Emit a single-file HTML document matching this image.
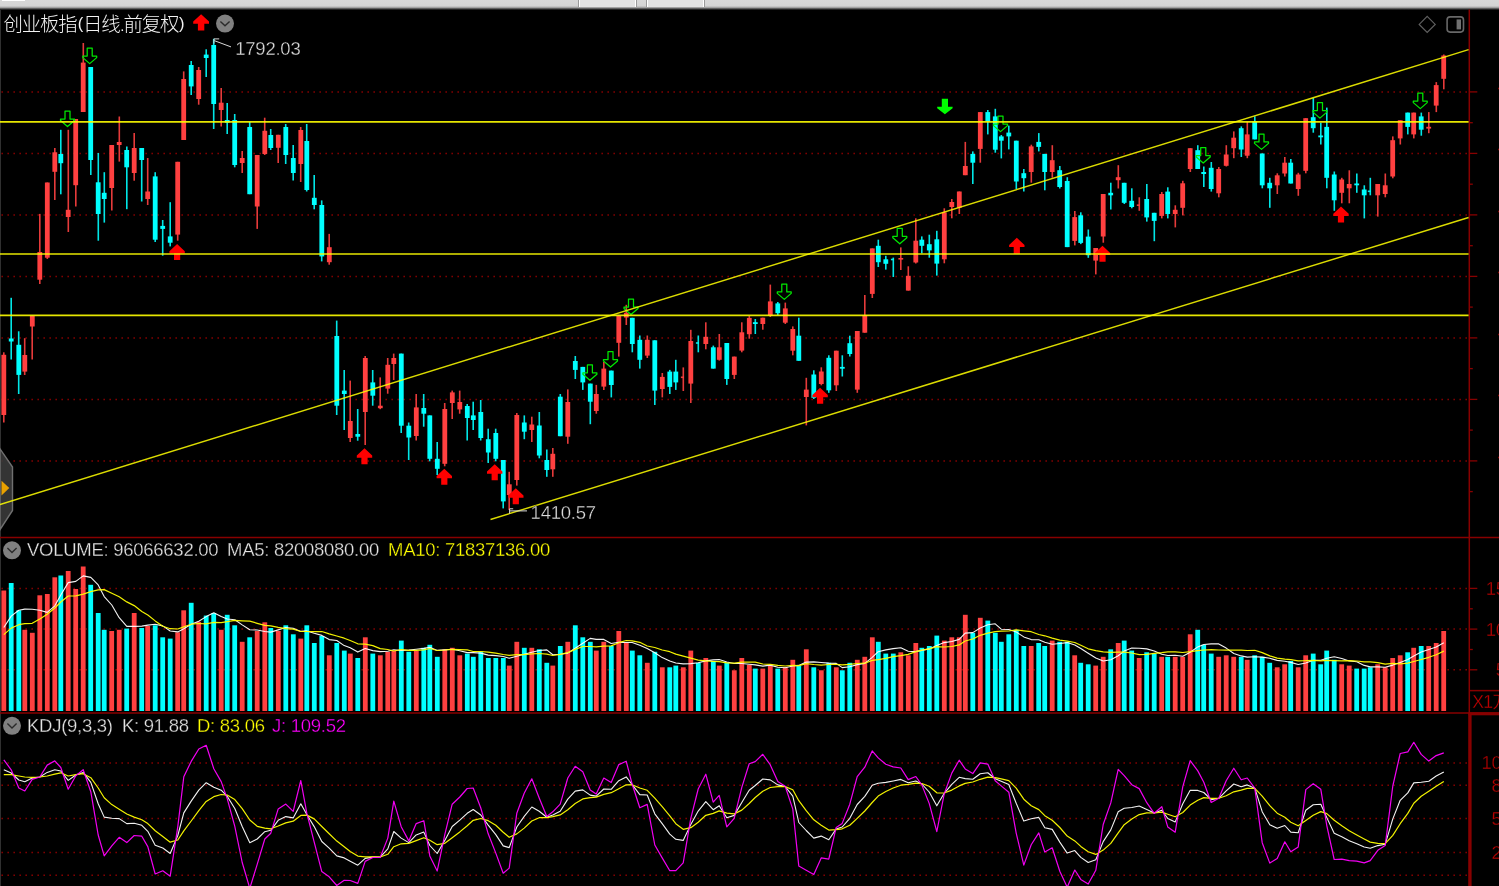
<!DOCTYPE html>
<html lang="zh-CN">
<head>
<meta charset="utf-8">
<title>创业板指 日线 前复权</title>
<style>
html,body{margin:0;padding:0;background:#000;}
body{width:1499px;height:886px;overflow:hidden;position:relative;font-family:"Liberation Sans","Noto Sans CJK SC",sans-serif;}
#topbar{position:absolute;left:0;top:0;width:1499px;height:10.2px;background:linear-gradient(#d8d8d8 0,#d4d4d4 6px,#a2a2a2 7.5px,#404040 9px,#000 10.2px);}
#topbar i{position:absolute;top:0;height:7px;background:#e2e2e2;border-left:1px solid #9a9a9a;border-right:1px solid #9a9a9a;box-shadow:inset 1px 0 0 #fff,inset -1px 0 0 #fff;box-sizing:border-box;}
#topbar b{position:absolute;left:1.5px;top:0;width:23.5px;height:1px;background:#fff;}
svg{position:absolute;left:0;top:0;}
</style>
</head>
<body>
<div id="topbar"><b></b><i style="left:578px;width:59px"></i><i style="left:646px;width:59px"></i></div>
<svg width="1499" height="886" viewBox="0 0 1499 886">
<line x1="0.5" y1="10" x2="0.5" y2="886" stroke="#303030" stroke-width="1"/>
<g stroke="#800000" stroke-width="1.5" stroke-dasharray="1.6 4.4" fill="none">
<line x1="1.4" y1="91.9" x2="1467.3" y2="91.9"/>
<line x1="1.4" y1="153.4" x2="1467.3" y2="153.4"/>
<line x1="1.4" y1="214.9" x2="1467.3" y2="214.9"/>
<line x1="1.4" y1="276.4" x2="1467.3" y2="276.4"/>
<line x1="1.4" y1="337.9" x2="1467.3" y2="337.9"/>
<line x1="1.4" y1="399.4" x2="1467.3" y2="399.4"/>
<line x1="1.4" y1="460.9" x2="1467.3" y2="460.9"/>
<line x1="1.4" y1="588.4" x2="1467.3" y2="588.4"/>
<line x1="1.4" y1="629.1" x2="1467.3" y2="629.1"/>
<line x1="1.4" y1="669.8" x2="1467.3" y2="669.8"/>
<line x1="1.4" y1="763" x2="1467.3" y2="763"/>
<line x1="1.4" y1="785.3" x2="1467.3" y2="785.3"/>
<line x1="1.4" y1="818.5" x2="1467.3" y2="818.5"/>
<line x1="1.4" y1="852.6" x2="1467.3" y2="852.6"/>
<line x1="1.4" y1="875.2" x2="1467.3" y2="875.2"/>
</g>
<g stroke="#880000" stroke-width="1.5" fill="none">
<line x1="1469.3" y1="9.5" x2="1469.3" y2="886"/>
<line x1="0" y1="537.4" x2="1499" y2="537.4"/>
<line x1="0" y1="713" x2="1499" y2="713"/>
<line x1="1469.3" y1="690.6" x2="1499" y2="690.6"/>
</g>
<g stroke="#880000" fill="none"><line x1="1470" y1="713" x2="1470" y2="886" stroke-width="3.2"/><line x1="1468.5" y1="713.8" x2="1499" y2="713.8" stroke-width="3"/></g>
<g stroke="#880000" stroke-width="1.3" fill="none">
<line x1="1469.3" y1="91.9" x2="1477.3" y2="91.9"/>
<line x1="1469.3" y1="122.7" x2="1472.8" y2="122.7"/>
<line x1="1469.3" y1="153.4" x2="1477.3" y2="153.4"/>
<line x1="1469.3" y1="184.2" x2="1472.8" y2="184.2"/>
<line x1="1469.3" y1="214.9" x2="1477.3" y2="214.9"/>
<line x1="1469.3" y1="245.7" x2="1472.8" y2="245.7"/>
<line x1="1469.3" y1="276.4" x2="1477.3" y2="276.4"/>
<line x1="1469.3" y1="307.1" x2="1472.8" y2="307.1"/>
<line x1="1469.3" y1="337.9" x2="1477.3" y2="337.9"/>
<line x1="1469.3" y1="368.6" x2="1472.8" y2="368.6"/>
<line x1="1469.3" y1="399.4" x2="1477.3" y2="399.4"/>
<line x1="1469.3" y1="430.1" x2="1472.8" y2="430.1"/>
<line x1="1469.3" y1="460.9" x2="1477.3" y2="460.9"/>
<line x1="1469.3" y1="491.6" x2="1472.8" y2="491.6"/>
<line x1="1469.3" y1="588.4" x2="1477.3" y2="588.4"/>
<line x1="1469.3" y1="608.8" x2="1472.8" y2="608.8"/>
<line x1="1469.3" y1="629.1" x2="1477.3" y2="629.1"/>
<line x1="1469.3" y1="649.5" x2="1472.8" y2="649.5"/>
<line x1="1469.3" y1="669.8" x2="1477.3" y2="669.8"/>
</g>
<g fill="#ff4040" stroke="none">
<rect x="3" y="352.3" width="1.6" height="70.2" opacity="0.9"/>
<rect x="1.4" y="354.8" width="4.8" height="60.2"/>
<rect x="23.9" y="338.2" width="1.6" height="36.8" opacity="0.9"/>
<rect x="22.4" y="355" width="4.8" height="16.6"/>
<rect x="31.4" y="315.8" width="1.6" height="43.7" opacity="0.9"/>
<rect x="29.9" y="315.8" width="4.8" height="10.7"/>
<rect x="39" y="213.9" width="1.6" height="70.1" opacity="0.9"/>
<rect x="37.4" y="252" width="4.8" height="27.7"/>
<rect x="46.5" y="182.5" width="1.6" height="76.5" opacity="0.9"/>
<rect x="44.9" y="182.5" width="4.8" height="75.2"/>
<rect x="54" y="148" width="1.6" height="52" opacity="0.9"/>
<rect x="52.4" y="152.3" width="4.8" height="19.5"/>
<rect x="67.5" y="129.8" width="1.6" height="102.2" opacity="0.9"/>
<rect x="65.8" y="209.8" width="4.8" height="7.2"/>
<rect x="75" y="119" width="1.6" height="87.5" opacity="0.9"/>
<rect x="73.3" y="119" width="4.8" height="66.2"/>
<rect x="82.5" y="43" width="1.6" height="69" opacity="0.9"/>
<rect x="80.8" y="62.6" width="4.8" height="49.4"/>
<rect x="111" y="145" width="1.6" height="65.5" opacity="0.9"/>
<rect x="109.3" y="145" width="4.8" height="43"/>
<rect x="118.5" y="116.5" width="1.6" height="45.1" opacity="0.9"/>
<rect x="116.8" y="142" width="4.8" height="3"/>
<rect x="133.4" y="133" width="1.6" height="47.7" opacity="0.9"/>
<rect x="131.8" y="148" width="4.8" height="25"/>
<rect x="146.9" y="158" width="1.6" height="47" opacity="0.9"/>
<rect x="145.3" y="191.5" width="4.8" height="7.5"/>
<rect x="176.9" y="161.8" width="1.6" height="78.9" opacity="0.9"/>
<rect x="175.3" y="161.8" width="4.8" height="72.8"/>
<rect x="182.9" y="71.4" width="1.6" height="68.6" opacity="0.9"/>
<rect x="181.3" y="79" width="4.8" height="61"/>
<rect x="197.9" y="67" width="1.6" height="37.7" opacity="0.9"/>
<rect x="196.3" y="70" width="4.8" height="29"/>
<rect x="220.4" y="88" width="1.6" height="38.5" opacity="0.9"/>
<rect x="218.8" y="102.7" width="4.8" height="7.3"/>
<rect x="241.4" y="151" width="1.6" height="22" opacity="0.9"/>
<rect x="239.8" y="158" width="4.8" height="5"/>
<rect x="256.4" y="155" width="1.6" height="73.9" opacity="0.9"/>
<rect x="254.8" y="155" width="4.8" height="51.5"/>
<rect x="263.9" y="117.7" width="1.6" height="37.3" opacity="0.9"/>
<rect x="262.4" y="130.8" width="4.8" height="23.2"/>
<rect x="277.4" y="134.8" width="1.6" height="28.2" opacity="0.9"/>
<rect x="275.9" y="134.8" width="4.8" height="13"/>
<rect x="299.9" y="127" width="1.6" height="55" opacity="0.9"/>
<rect x="298.4" y="130" width="4.8" height="34"/>
<rect x="328.4" y="233.9" width="1.6" height="30.8" opacity="0.9"/>
<rect x="326.9" y="247.2" width="4.8" height="15"/>
<rect x="349.4" y="380.6" width="1.6" height="61.4" opacity="0.9"/>
<rect x="347.9" y="421" width="4.8" height="17"/>
<rect x="364.4" y="356" width="1.6" height="89" opacity="0.9"/>
<rect x="362.9" y="358" width="4.8" height="54"/>
<rect x="379.4" y="377.4" width="1.6" height="31.8" opacity="0.9"/>
<rect x="377.9" y="405.7" width="4.8" height="2.5"/>
<rect x="386.9" y="358" width="1.6" height="35.7" opacity="0.9"/>
<rect x="385.4" y="364.8" width="4.8" height="23.8"/>
<rect x="392.9" y="353.6" width="1.6" height="26.4" opacity="0.9"/>
<rect x="391.4" y="358" width="4.8" height="6"/>
<rect x="415.4" y="394" width="1.6" height="46.5" opacity="0.9"/>
<rect x="413.9" y="407.4" width="4.8" height="28.6"/>
<rect x="443.9" y="403" width="1.6" height="63.3" opacity="0.9"/>
<rect x="442.4" y="409" width="4.8" height="54.8"/>
<rect x="451.4" y="390.6" width="1.6" height="28.4" opacity="0.9"/>
<rect x="449.9" y="392.4" width="4.8" height="10.6"/>
<rect x="458.9" y="390.6" width="1.6" height="23.1" opacity="0.9"/>
<rect x="457.4" y="402" width="4.8" height="7.4"/>
<rect x="508.4" y="471.8" width="1.6" height="38.2" opacity="0.9"/>
<rect x="506.9" y="484.3" width="4.8" height="10.7"/>
<rect x="516" y="413" width="1.6" height="72.6" opacity="0.9"/>
<rect x="514.4" y="415" width="4.8" height="65"/>
<rect x="531" y="416.7" width="1.6" height="25.3" opacity="0.9"/>
<rect x="529.4" y="424.5" width="4.8" height="5.5"/>
<rect x="552" y="448" width="1.6" height="28.8" opacity="0.9"/>
<rect x="550.4" y="453.8" width="4.8" height="15.5"/>
<rect x="567" y="389.4" width="1.6" height="54.4" opacity="0.9"/>
<rect x="565.4" y="402" width="4.8" height="34.7"/>
<rect x="595.5" y="384.9" width="1.6" height="28.8" opacity="0.9"/>
<rect x="593.9" y="394" width="4.8" height="17"/>
<rect x="603" y="362" width="1.6" height="28" opacity="0.9"/>
<rect x="601.4" y="368.6" width="4.8" height="18"/>
<rect x="618" y="315.3" width="1.6" height="41.3" opacity="0.9"/>
<rect x="616.4" y="315.8" width="4.8" height="27"/>
<rect x="625.5" y="304.8" width="1.6" height="20.2" opacity="0.9"/>
<rect x="623.9" y="312.8" width="4.8" height="4.7"/>
<rect x="646.5" y="335.5" width="1.6" height="22.5" opacity="0.9"/>
<rect x="644.9" y="339.8" width="4.8" height="15.8"/>
<rect x="661.5" y="373" width="1.6" height="24.4" opacity="0.9"/>
<rect x="659.9" y="376.9" width="4.8" height="12.1"/>
<rect x="682.5" y="367.4" width="1.6" height="23.6" opacity="0.9"/>
<rect x="680.9" y="376.5" width="3" height="1.6" opacity="0.9"/>
<rect x="690" y="329.8" width="1.6" height="73.2" opacity="0.9"/>
<rect x="688.4" y="341" width="4.8" height="42.6"/>
<rect x="705" y="322.3" width="1.6" height="27" opacity="0.9"/>
<rect x="703.4" y="336.8" width="4.8" height="7.2"/>
<rect x="718.5" y="334" width="1.6" height="26.6" opacity="0.9"/>
<rect x="716.9" y="347.3" width="4.8" height="12.5"/>
<rect x="733.5" y="356.6" width="1.6" height="22.4" opacity="0.9"/>
<rect x="731.9" y="356.6" width="4.8" height="18.3"/>
<rect x="741" y="322.3" width="1.6" height="30" opacity="0.9"/>
<rect x="739.4" y="332.3" width="4.8" height="18.3"/>
<rect x="748.5" y="315.9" width="1.6" height="22.8" opacity="0.9"/>
<rect x="746.9" y="317.9" width="4.8" height="16.3"/>
<rect x="762" y="317.7" width="1.6" height="12" opacity="0.9"/>
<rect x="760.4" y="317.7" width="4.8" height="6.3"/>
<rect x="769.5" y="284.6" width="1.6" height="32.4" opacity="0.9"/>
<rect x="767.9" y="301.4" width="4.8" height="14.3"/>
<rect x="784.5" y="302.6" width="1.6" height="21.4" opacity="0.9"/>
<rect x="782.9" y="308.4" width="4.8" height="14.3"/>
<rect x="792" y="326.4" width="1.6" height="28.9" opacity="0.9"/>
<rect x="790.4" y="329" width="4.8" height="21.7"/>
<rect x="805.5" y="377.8" width="1.6" height="47.6" opacity="0.9"/>
<rect x="803.9" y="389.6" width="4.8" height="7.4"/>
<rect x="820.5" y="367.3" width="1.6" height="18" opacity="0.9"/>
<rect x="818.9" y="371.5" width="4.8" height="12.5"/>
<rect x="835.5" y="350.7" width="1.6" height="40.3" opacity="0.9"/>
<rect x="833.9" y="350.7" width="4.8" height="34.6"/>
<rect x="856.5" y="331" width="1.6" height="61.8" opacity="0.9"/>
<rect x="854.9" y="331" width="4.8" height="58.6"/>
<rect x="864" y="295" width="1.6" height="37.7" opacity="0.9"/>
<rect x="862.4" y="315.2" width="4.8" height="17.5"/>
<rect x="871.5" y="248.4" width="1.6" height="49.6" opacity="0.9"/>
<rect x="869.9" y="248.4" width="4.8" height="45.5"/>
<rect x="900" y="247.4" width="1.6" height="22.6" opacity="0.9"/>
<rect x="898.4" y="258" width="4.8" height="1.6"/>
<rect x="907.5" y="266.3" width="1.6" height="24.3" opacity="0.9"/>
<rect x="905.9" y="275.8" width="4.8" height="14.8"/>
<rect x="915" y="218.3" width="1.6" height="45.2" opacity="0.9"/>
<rect x="913.4" y="240.7" width="4.8" height="21.8"/>
<rect x="943.5" y="208.3" width="1.6" height="55" opacity="0.9"/>
<rect x="941.9" y="212.3" width="4.8" height="47"/>
<rect x="951" y="199" width="1.6" height="19.3" opacity="0.9"/>
<rect x="949.4" y="202" width="4.8" height="5"/>
<rect x="958.5" y="191.5" width="1.6" height="22.5" opacity="0.9"/>
<rect x="956.9" y="191.5" width="4.8" height="16.3"/>
<rect x="964.5" y="141.9" width="1.6" height="33.3" opacity="0.9"/>
<rect x="962.9" y="166" width="4.8" height="9.2"/>
<rect x="979.5" y="112.1" width="1.6" height="50.6" opacity="0.9"/>
<rect x="977.9" y="112.1" width="4.8" height="36.8"/>
<rect x="1030.5" y="144.7" width="1.6" height="38" opacity="0.9"/>
<rect x="1028.8" y="146.4" width="4.8" height="25.6"/>
<rect x="1051.5" y="145.2" width="1.6" height="32.5" opacity="0.9"/>
<rect x="1049.8" y="160.2" width="4.8" height="11.8"/>
<rect x="1074" y="211" width="1.6" height="34.4" opacity="0.9"/>
<rect x="1072.3" y="217.1" width="4.8" height="23.8"/>
<rect x="1095" y="248" width="1.6" height="26.4" opacity="0.9"/>
<rect x="1093.3" y="248" width="4.8" height="12.6"/>
<rect x="1102.5" y="194" width="1.6" height="48.7" opacity="0.9"/>
<rect x="1100.8" y="194" width="4.8" height="42.5"/>
<rect x="1117.5" y="165.2" width="1.6" height="23.3" opacity="0.9"/>
<rect x="1115.8" y="177.2" width="4.8" height="3"/>
<rect x="1138.5" y="197.3" width="1.6" height="13.5" opacity="0.9"/>
<rect x="1136.8" y="204.4" width="3" height="1.6" opacity="0.9"/>
<rect x="1161" y="192" width="1.6" height="26.4" opacity="0.9"/>
<rect x="1159.3" y="194" width="4.8" height="21.9"/>
<rect x="1174.5" y="205.3" width="1.6" height="22.1" opacity="0.9"/>
<rect x="1172.8" y="209.8" width="4.8" height="4.2"/>
<rect x="1182" y="180.8" width="1.6" height="34.6" opacity="0.9"/>
<rect x="1180.3" y="183.3" width="4.8" height="24.5"/>
<rect x="1189.5" y="148.2" width="1.6" height="23.8" opacity="0.9"/>
<rect x="1187.8" y="148.2" width="4.8" height="20.8"/>
<rect x="1218" y="167" width="1.6" height="30.3" opacity="0.9"/>
<rect x="1216.3" y="169" width="4.8" height="24.3"/>
<rect x="1225.5" y="145.2" width="1.6" height="21.3" opacity="0.9"/>
<rect x="1223.8" y="154.5" width="4.8" height="11.3"/>
<rect x="1233" y="131.4" width="1.6" height="26.8" opacity="0.9"/>
<rect x="1231.3" y="137.7" width="4.8" height="10.5"/>
<rect x="1246.5" y="122" width="1.6" height="36.2" opacity="0.9"/>
<rect x="1244.8" y="134.4" width="4.8" height="21.3"/>
<rect x="1276.5" y="173.3" width="1.6" height="20.7" opacity="0.9"/>
<rect x="1274.8" y="175.3" width="4.8" height="10"/>
<rect x="1284" y="157" width="1.6" height="19.5" opacity="0.9"/>
<rect x="1282.3" y="162.7" width="4.8" height="10.8"/>
<rect x="1297.5" y="172.8" width="1.6" height="23" opacity="0.9"/>
<rect x="1295.8" y="174.5" width="4.8" height="14.5"/>
<rect x="1305" y="118.2" width="1.6" height="55.1" opacity="0.9"/>
<rect x="1303.3" y="118.2" width="4.8" height="52.6"/>
<rect x="1341" y="177.8" width="1.6" height="25.5" opacity="0.9"/>
<rect x="1339.3" y="179.5" width="4.8" height="13.3"/>
<rect x="1348.5" y="170.3" width="1.6" height="33" opacity="0.9"/>
<rect x="1346.8" y="184" width="4.8" height="4.3"/>
<rect x="1377" y="184" width="1.6" height="32.6" opacity="0.9"/>
<rect x="1375.3" y="184" width="4.8" height="11.3"/>
<rect x="1384.5" y="173.5" width="1.6" height="23.8" opacity="0.9"/>
<rect x="1382.8" y="185.3" width="4.8" height="8.7"/>
<rect x="1392" y="136.4" width="1.6" height="41.9" opacity="0.9"/>
<rect x="1390.3" y="140.2" width="4.8" height="36.3"/>
<rect x="1399.5" y="120.2" width="1.6" height="24.3" opacity="0.9"/>
<rect x="1397.8" y="120.2" width="4.8" height="18.2"/>
<rect x="1413" y="112.6" width="1.6" height="25.8" opacity="0.9"/>
<rect x="1411.3" y="112.6" width="4.8" height="21.8"/>
<rect x="1428" y="112.1" width="1.6" height="21.1" opacity="0.9"/>
<rect x="1426.3" y="126.8" width="4.8" height="1.8"/>
<rect x="1435.5" y="82.1" width="1.6" height="30" opacity="0.9"/>
<rect x="1433.8" y="85.1" width="4.8" height="20.5"/>
<rect x="1443" y="54.5" width="1.6" height="34.8" opacity="0.9"/>
<rect x="1441.3" y="55.5" width="4.8" height="23.3"/>
</g>
<g fill="#00ffff" stroke="none">
<rect x="10.4" y="297.8" width="1.6" height="61.7" opacity="0.9"/>
<rect x="8.8" y="338.5" width="4.8" height="3"/>
<rect x="17.9" y="331.3" width="1.6" height="62.7" opacity="0.9"/>
<rect x="16.4" y="344.8" width="4.8" height="30.1"/>
<rect x="60" y="129.8" width="1.6" height="64.5" opacity="0.9"/>
<rect x="58.4" y="154" width="4.8" height="9.2"/>
<rect x="90" y="67" width="1.6" height="108" opacity="0.9"/>
<rect x="88.3" y="67" width="4.8" height="93"/>
<rect x="97.5" y="153" width="1.6" height="87.7" opacity="0.9"/>
<rect x="95.8" y="182.3" width="4.8" height="31.7"/>
<rect x="103.5" y="172.2" width="1.6" height="50.4" opacity="0.9"/>
<rect x="101.8" y="192.8" width="4.8" height="6.2"/>
<rect x="126" y="146.5" width="1.6" height="62.7" opacity="0.9"/>
<rect x="124.3" y="150" width="4.8" height="17.3"/>
<rect x="140.9" y="148" width="1.6" height="53.5" opacity="0.9"/>
<rect x="139.3" y="148" width="4.8" height="12"/>
<rect x="154.4" y="172.2" width="1.6" height="69.8" opacity="0.9"/>
<rect x="152.8" y="176.4" width="4.8" height="63.3"/>
<rect x="161.9" y="220" width="1.6" height="35.7" opacity="0.9"/>
<rect x="160.3" y="225.9" width="4.8" height="3"/>
<rect x="169.4" y="202.2" width="1.6" height="44.2" opacity="0.9"/>
<rect x="167.8" y="236.4" width="4.8" height="6.3"/>
<rect x="190.4" y="61" width="1.6" height="34" opacity="0.9"/>
<rect x="188.8" y="65" width="4.8" height="21.4"/>
<rect x="205.4" y="49.3" width="1.6" height="27.7" opacity="0.9"/>
<rect x="203.8" y="54.6" width="4.8" height="3.4"/>
<rect x="212.9" y="38.8" width="1.6" height="90.2" opacity="0.9"/>
<rect x="211.3" y="45" width="4.8" height="59"/>
<rect x="226.4" y="103" width="1.6" height="31" opacity="0.9"/>
<rect x="224.8" y="120" width="4.8" height="2.7"/>
<rect x="233.9" y="114" width="1.6" height="53.3" opacity="0.9"/>
<rect x="232.3" y="120" width="4.8" height="45"/>
<rect x="248.9" y="122" width="1.6" height="72.2" opacity="0.9"/>
<rect x="247.3" y="127" width="4.8" height="67.2"/>
<rect x="269.9" y="129" width="1.6" height="21" opacity="0.9"/>
<rect x="268.4" y="135" width="4.8" height="13"/>
<rect x="284.9" y="124" width="1.6" height="40" opacity="0.9"/>
<rect x="283.4" y="127" width="4.8" height="28"/>
<rect x="292.4" y="145" width="1.6" height="35.5" opacity="0.9"/>
<rect x="290.9" y="158" width="4.8" height="15"/>
<rect x="305.9" y="124" width="1.6" height="67.5" opacity="0.9"/>
<rect x="304.4" y="141" width="4.8" height="49"/>
<rect x="313.4" y="175" width="1.6" height="34.3" opacity="0.9"/>
<rect x="311.9" y="197.8" width="4.8" height="7.2"/>
<rect x="320.9" y="200.4" width="1.6" height="61" opacity="0.9"/>
<rect x="319.4" y="205" width="4.8" height="51.4"/>
<rect x="335.9" y="320.6" width="1.6" height="94.4" opacity="0.9"/>
<rect x="334.4" y="336" width="4.8" height="69.7"/>
<rect x="343.4" y="370" width="1.6" height="60" opacity="0.9"/>
<rect x="341.9" y="390.6" width="4.8" height="3.4"/>
<rect x="356.9" y="409" width="1.6" height="31.7" opacity="0.9"/>
<rect x="355.4" y="434" width="4.8" height="2.7"/>
<rect x="371.9" y="370" width="1.6" height="35.7" opacity="0.9"/>
<rect x="370.4" y="382.4" width="4.8" height="13.3"/>
<rect x="400.4" y="353.6" width="1.6" height="79.4" opacity="0.9"/>
<rect x="398.9" y="353.6" width="4.8" height="72.1"/>
<rect x="407.9" y="422.5" width="1.6" height="37.5" opacity="0.9"/>
<rect x="406.4" y="425.7" width="4.8" height="11.8"/>
<rect x="422.9" y="394" width="1.6" height="32.7" opacity="0.9"/>
<rect x="421.4" y="408" width="4.8" height="5.7"/>
<rect x="428.9" y="415.4" width="1.6" height="45.9" opacity="0.9"/>
<rect x="427.4" y="415.4" width="4.8" height="43.4"/>
<rect x="436.4" y="442" width="1.6" height="33" opacity="0.9"/>
<rect x="434.9" y="458.8" width="4.8" height="10"/>
<rect x="466.4" y="404" width="1.6" height="36.5" opacity="0.9"/>
<rect x="464.9" y="406" width="4.8" height="12"/>
<rect x="472.4" y="401.7" width="1.6" height="28.3" opacity="0.9"/>
<rect x="470.9" y="415.4" width="4.8" height="4.6"/>
<rect x="479.9" y="400" width="1.6" height="40.5" opacity="0.9"/>
<rect x="478.4" y="412" width="4.8" height="26"/>
<rect x="487.4" y="428.7" width="1.6" height="34.3" opacity="0.9"/>
<rect x="485.9" y="439.2" width="4.8" height="13.3"/>
<rect x="494.9" y="428.7" width="1.6" height="32.6" opacity="0.9"/>
<rect x="493.4" y="433" width="4.8" height="25.8"/>
<rect x="502.4" y="460" width="1.6" height="48.4" opacity="0.9"/>
<rect x="500.9" y="460" width="4.8" height="41.4"/>
<rect x="523.5" y="415.4" width="1.6" height="23.8" opacity="0.9"/>
<rect x="521.9" y="422.5" width="4.8" height="9.2"/>
<rect x="538.5" y="412" width="1.6" height="46.3" opacity="0.9"/>
<rect x="536.9" y="425.5" width="4.8" height="30"/>
<rect x="546" y="449.5" width="1.6" height="27.3" opacity="0.9"/>
<rect x="544.4" y="460" width="4.8" height="10"/>
<rect x="559.5" y="394" width="1.6" height="42.2" opacity="0.9"/>
<rect x="557.9" y="396.7" width="4.8" height="39.5"/>
<rect x="574.5" y="356" width="1.6" height="23" opacity="0.9"/>
<rect x="572.9" y="361" width="4.8" height="8.9"/>
<rect x="582" y="366.9" width="1.6" height="23" opacity="0.9"/>
<rect x="580.4" y="366.9" width="4.8" height="15.5"/>
<rect x="589.5" y="383.6" width="1.6" height="40.6" opacity="0.9"/>
<rect x="587.9" y="383.6" width="4.8" height="18.1"/>
<rect x="610.5" y="370.6" width="1.6" height="26.8" opacity="0.9"/>
<rect x="608.9" y="370.6" width="4.8" height="14.4"/>
<rect x="631.5" y="317.8" width="1.6" height="34.5" opacity="0.9"/>
<rect x="629.9" y="317.8" width="4.8" height="26.2"/>
<rect x="639" y="335.5" width="1.6" height="33.1" opacity="0.9"/>
<rect x="637.4" y="339.8" width="4.8" height="20"/>
<rect x="654" y="340.3" width="1.6" height="64.7" opacity="0.9"/>
<rect x="652.4" y="340.3" width="4.8" height="50.3"/>
<rect x="669" y="369.9" width="1.6" height="24.1" opacity="0.9"/>
<rect x="667.4" y="371.6" width="4.8" height="15.3"/>
<rect x="675" y="359.8" width="1.6" height="30.1" opacity="0.9"/>
<rect x="673.4" y="371.6" width="4.8" height="10.8"/>
<rect x="697.5" y="335.5" width="1.6" height="16.8" opacity="0.9"/>
<rect x="695.9" y="342.2" width="3" height="1.6" opacity="0.9"/>
<rect x="712.5" y="345.6" width="1.6" height="23" opacity="0.9"/>
<rect x="710.9" y="347.3" width="4.8" height="21.3"/>
<rect x="726" y="343" width="1.6" height="41.9" opacity="0.9"/>
<rect x="724.4" y="343" width="4.8" height="36"/>
<rect x="754.5" y="319" width="1.6" height="15" opacity="0.9"/>
<rect x="752.9" y="322.2" width="4.8" height="1.8"/>
<rect x="777" y="302" width="1.6" height="13" opacity="0.9"/>
<rect x="775.4" y="303.4" width="4.8" height="9.8"/>
<rect x="798" y="317.7" width="1.6" height="43.1" opacity="0.9"/>
<rect x="796.4" y="335.7" width="4.8" height="25.1"/>
<rect x="813" y="370.3" width="1.6" height="28.7" opacity="0.9"/>
<rect x="811.4" y="374.5" width="4.8" height="23.3"/>
<rect x="828" y="355.3" width="1.6" height="37.5" opacity="0.9"/>
<rect x="826.4" y="357.8" width="4.8" height="32.5"/>
<rect x="841.5" y="355.3" width="1.6" height="21.2" opacity="0.9"/>
<rect x="839.9" y="366.9" width="4.8" height="1.8"/>
<rect x="849" y="335.7" width="1.6" height="20.8" opacity="0.9"/>
<rect x="847.4" y="343.2" width="4.8" height="10.8"/>
<rect x="877.5" y="239.7" width="1.6" height="27.3" opacity="0.9"/>
<rect x="875.9" y="245.8" width="4.8" height="16.4"/>
<rect x="885" y="255.8" width="1.6" height="13.8" opacity="0.9"/>
<rect x="883.4" y="259.3" width="4.8" height="4.5"/>
<rect x="892.5" y="257.6" width="1.6" height="19.4" opacity="0.9"/>
<rect x="890.9" y="258.7" width="3" height="1.6" opacity="0.9"/>
<rect x="921" y="236.4" width="1.6" height="16.9" opacity="0.9"/>
<rect x="919.4" y="239.7" width="4.8" height="6.1"/>
<rect x="928.5" y="234.7" width="1.6" height="23" opacity="0.9"/>
<rect x="926.9" y="244.2" width="4.8" height="6.2"/>
<rect x="936" y="230.8" width="1.6" height="44.8" opacity="0.9"/>
<rect x="934.4" y="239.3" width="4.8" height="24.3"/>
<rect x="972" y="151.4" width="1.6" height="32.6" opacity="0.9"/>
<rect x="970.4" y="153.9" width="4.8" height="8.8"/>
<rect x="987" y="110" width="1.6" height="24.4" opacity="0.9"/>
<rect x="985.4" y="112.1" width="4.8" height="9.3"/>
<rect x="994.5" y="108.8" width="1.6" height="43.9" opacity="0.9"/>
<rect x="992.9" y="116.4" width="4.8" height="33.3"/>
<rect x="1000.5" y="135" width="1.6" height="23.4" opacity="0.9"/>
<rect x="998.9" y="136.4" width="4.8" height="4.3"/>
<rect x="1008" y="125.6" width="1.6" height="23.8" opacity="0.9"/>
<rect x="1006.4" y="132.6" width="4.8" height="3.8"/>
<rect x="1015.5" y="140.7" width="1.6" height="48.3" opacity="0.9"/>
<rect x="1013.9" y="140.7" width="4.8" height="40.8"/>
<rect x="1023" y="169" width="1.6" height="22.5" opacity="0.9"/>
<rect x="1021.4" y="173.2" width="4.8" height="5"/>
<rect x="1038" y="133.1" width="1.6" height="18.3" opacity="0.9"/>
<rect x="1036.3" y="141.9" width="4.8" height="5"/>
<rect x="1044" y="153.9" width="1.6" height="36.4" opacity="0.9"/>
<rect x="1042.3" y="153.9" width="4.8" height="18.1"/>
<rect x="1059" y="166" width="1.6" height="22.5" opacity="0.9"/>
<rect x="1057.3" y="170.2" width="4.8" height="16.8"/>
<rect x="1066.5" y="177.2" width="1.6" height="69.9" opacity="0.9"/>
<rect x="1064.8" y="181" width="4.8" height="66.1"/>
<rect x="1080" y="212.3" width="1.6" height="31.8" opacity="0.9"/>
<rect x="1078.3" y="215.3" width="4.8" height="27.6"/>
<rect x="1087.5" y="229.5" width="1.6" height="28.3" opacity="0.9"/>
<rect x="1085.8" y="236.6" width="4.8" height="18.6"/>
<rect x="1110" y="182.7" width="1.6" height="26.8" opacity="0.9"/>
<rect x="1108.3" y="192.8" width="4.8" height="2.5"/>
<rect x="1123.5" y="182.8" width="1.6" height="21.2" opacity="0.9"/>
<rect x="1121.8" y="182.8" width="4.8" height="20"/>
<rect x="1131" y="188.3" width="1.6" height="20" opacity="0.9"/>
<rect x="1129.3" y="200.8" width="4.8" height="6.2"/>
<rect x="1146" y="184" width="1.6" height="37.6" opacity="0.9"/>
<rect x="1144.3" y="199" width="4.8" height="18.4"/>
<rect x="1153.5" y="212.8" width="1.6" height="28.4" opacity="0.9"/>
<rect x="1151.8" y="212.8" width="4.8" height="8.1"/>
<rect x="1167" y="187.3" width="1.6" height="31.1" opacity="0.9"/>
<rect x="1165.3" y="191.6" width="4.8" height="22.4"/>
<rect x="1197" y="145.2" width="1.6" height="23.8" opacity="0.9"/>
<rect x="1195.3" y="150.2" width="4.8" height="18.8"/>
<rect x="1203" y="166.5" width="1.6" height="20.5" opacity="0.9"/>
<rect x="1201.3" y="172" width="4.8" height="2"/>
<rect x="1210.5" y="162" width="1.6" height="29.6" opacity="0.9"/>
<rect x="1208.8" y="167.8" width="4.8" height="21.2"/>
<rect x="1240.5" y="126.4" width="1.6" height="30.6" opacity="0.9"/>
<rect x="1238.8" y="128.2" width="4.8" height="21.3"/>
<rect x="1254" y="116.4" width="1.6" height="23" opacity="0.9"/>
<rect x="1252.3" y="121.4" width="4.8" height="18"/>
<rect x="1261.5" y="153.5" width="1.6" height="34.8" opacity="0.9"/>
<rect x="1259.8" y="153.5" width="4.8" height="31.8"/>
<rect x="1269" y="177.8" width="1.6" height="30" opacity="0.9"/>
<rect x="1267.3" y="182.8" width="4.8" height="5.5"/>
<rect x="1290" y="159" width="1.6" height="24.5" opacity="0.9"/>
<rect x="1288.3" y="162.7" width="4.8" height="20.8"/>
<rect x="1312.5" y="98.1" width="1.6" height="34.6" opacity="0.9"/>
<rect x="1310.8" y="117.2" width="4.8" height="11"/>
<rect x="1320" y="122.7" width="1.6" height="21.8" opacity="0.9"/>
<rect x="1318.3" y="135.5" width="4.8" height="1.8"/>
<rect x="1326" y="107.6" width="1.6" height="80.7" opacity="0.9"/>
<rect x="1324.3" y="126.9" width="4.8" height="50.9"/>
<rect x="1333.5" y="171.5" width="1.6" height="39.3" opacity="0.9"/>
<rect x="1331.8" y="174.5" width="4.8" height="25.8"/>
<rect x="1356" y="173.5" width="1.6" height="19.3" opacity="0.9"/>
<rect x="1354.3" y="183.5" width="4.8" height="1.8"/>
<rect x="1363.5" y="185.3" width="1.6" height="33.1" opacity="0.9"/>
<rect x="1361.8" y="189.5" width="4.8" height="5.8"/>
<rect x="1369.5" y="177.8" width="1.6" height="17.5" opacity="0.9"/>
<rect x="1367.8" y="190.5" width="3" height="1.6" opacity="0.9"/>
<rect x="1407" y="112.6" width="1.6" height="21.8" opacity="0.9"/>
<rect x="1405.3" y="112.6" width="4.8" height="14.3"/>
<rect x="1420.5" y="112.6" width="1.6" height="23.1" opacity="0.9"/>
<rect x="1418.8" y="116.4" width="4.8" height="13.3"/>
</g>
<g fill="#ff0000">
<polygon points="177.1,244 184.8,251.2 184.8,253.4 180.2,253.4 180.2,260 174,260 174,253.4 169.4,253.4 169.4,251.2"/>
<polygon points="364.5,448.3 372.2,455.5 372.2,457.7 367.6,457.7 367.6,464.3 361.4,464.3 361.4,457.7 356.8,457.7 356.8,455.5"/>
<polygon points="444.3,468.8 452,476 452,478.2 447.4,478.2 447.4,484.8 441.2,484.8 441.2,478.2 436.6,478.2 436.6,476"/>
<polygon points="494.7,464.3 502.4,471.5 502.4,473.7 497.8,473.7 497.8,480.3 491.6,480.3 491.6,473.7 487,473.7 487,471.5"/>
<polygon points="515.8,488.3 523.5,495.5 523.5,497.7 518.9,497.7 518.9,504.3 512.7,504.3 512.7,497.7 508.1,497.7 508.1,495.5"/>
<polygon points="820.1,387.8 827.8,395 827.8,397.2 823.2,397.2 823.2,403.8 817,403.8 817,397.2 812.4,397.2 812.4,395"/>
<polygon points="1016.8,237.7 1024.5,244.9 1024.5,247.1 1019.9,247.1 1019.9,253.7 1013.7,253.7 1013.7,247.1 1009.1,247.1 1009.1,244.9"/>
<polygon points="1102.5,245.7 1110.2,252.9 1110.2,255.1 1105.6,255.1 1105.6,261.7 1099.4,261.7 1099.4,255.1 1094.8,255.1 1094.8,252.9"/>
<polygon points="1341,206.6 1348.7,213.8 1348.7,216 1344.1,216 1344.1,222.6 1337.9,222.6 1337.9,216 1333.3,216 1333.3,213.8"/>
<polygon points="201.1,14.2 209,21.5 209,23.8 204.3,23.8 204.3,30.5 197.9,30.5 197.9,23.8 193.2,23.8 193.2,21.5"/>
</g>
<g fill="none" stroke="#00e800" stroke-width="1.25" stroke-linejoin="round">
<polygon points="65,111.1 70,111.1 70,119 74.5,119 74.5,120.5 67.5,126.5 60.5,120.5 60.5,119 65,119"/>
<polygon points="87.2,48.2 92.2,48.2 92.2,56.1 96.7,56.1 96.7,57.6 89.7,63.6 82.8,57.6 82.8,56.1 87.2,56.1"/>
<polygon points="587.4,364.9 592.4,364.9 592.4,372.8 596.9,372.8 596.9,374.3 589.9,380.3 582.9,374.3 582.9,372.8 587.4,372.8"/>
<polygon points="608,351.6 613,351.6 613,359.5 617.5,359.5 617.5,361 610.5,367 603.5,361 603.5,359.5 608,359.5"/>
<polygon points="628.5,299.1 633.5,299.1 633.5,307 638,307 638,308.5 631,314.5 624,308.5 624,307 628.5,307"/>
<polygon points="781.8,284 786.8,284 786.8,291.9 791.2,291.9 791.2,293.4 784.3,299.4 777.3,293.4 777.3,291.9 781.8,291.9"/>
<polygon points="897.2,228.4 902.3,228.4 902.3,236.3 906.8,236.3 906.8,237.8 899.8,243.8 892.8,237.8 892.8,236.3 897.2,236.3"/>
<polygon points="998,116.2 1003,116.2 1003,124.1 1007.5,124.1 1007.5,125.6 1000.5,131.6 993.5,125.6 993.5,124.1 998,124.1"/>
<polygon points="1200.7,147.6 1205.8,147.6 1205.8,155.5 1210.2,155.5 1210.2,157 1203.2,163 1196.2,157 1196.2,155.5 1200.7,155.5"/>
<polygon points="1259,134 1264,134 1264,141.9 1268.5,141.9 1268.5,143.4 1261.5,149.4 1254.5,143.4 1254.5,141.9 1259,141.9"/>
<polygon points="1317.4,102.7 1322.5,102.7 1322.5,110.6 1326.9,110.6 1326.9,112.1 1319.9,118.1 1313,112.1 1313,110.6 1317.4,110.6"/>
<polygon points="1417.8,93.2 1422.8,93.2 1422.8,101.1 1427.2,101.1 1427.2,102.6 1420.3,108.6 1413.3,102.6 1413.3,101.1 1417.8,101.1"/>
</g>
<polygon fill="#00ff00" points="941.8,98.8 948,98.8 948,106.7 952.6,106.7 952.6,108.2 944.9,114.2 937.2,108.2 937.2,106.7 941.8,106.7"/>
<polygon points="0,448.8 12.5,467 12.5,510.5 0,529.6" fill="#3a3a3a" fill-opacity="0.9" stroke="#707070" stroke-width="1.4"/>
<polygon points="1.5,480.8 9.3,488.1 1.5,495.4" fill="#e8a000"/>
<g stroke="#ffff00" stroke-width="1.7" fill="none" opacity="0.9">
<line x1="0" y1="121.9" x2="1468.6" y2="121.9"/>
<line x1="0" y1="254" x2="1468.6" y2="254"/>
<line x1="0" y1="315.4" x2="1468.6" y2="315.4"/>
</g>
<g stroke="#ffff00" stroke-width="1.45" fill="none" opacity="0.86">
<line x1="0" y1="504.6" x2="1468.6" y2="49.6"/>
<line x1="490.5" y1="519.5" x2="1468.6" y2="217.5"/>
</g>
<g fill="#ff4040">
<rect x="1.4" y="590.5" width="4.8" height="120.5"/>
<rect x="22.4" y="629.8" width="4.8" height="81.2"/>
<rect x="29.9" y="632.8" width="4.8" height="78.2"/>
<rect x="37.4" y="595.3" width="4.8" height="115.7"/>
<rect x="44.9" y="594" width="4.8" height="117"/>
<rect x="52.4" y="577.3" width="4.8" height="133.7"/>
<rect x="65.8" y="571" width="4.8" height="140"/>
<rect x="73.3" y="589" width="4.8" height="122"/>
<rect x="80.8" y="566.5" width="4.8" height="144.5"/>
<rect x="109.3" y="631" width="4.8" height="80"/>
<rect x="116.8" y="629.8" width="4.8" height="81.2"/>
<rect x="131.8" y="613" width="4.8" height="98"/>
<rect x="145.3" y="626" width="4.8" height="85"/>
<rect x="175.3" y="632.3" width="4.8" height="78.7"/>
<rect x="181.3" y="610.3" width="4.8" height="100.7"/>
<rect x="196.3" y="621.8" width="4.8" height="89.2"/>
<rect x="218.8" y="629.8" width="4.8" height="81.2"/>
<rect x="239.8" y="641.8" width="4.8" height="69.2"/>
<rect x="254.8" y="631" width="4.8" height="80"/>
<rect x="262.4" y="622.3" width="4.8" height="88.7"/>
<rect x="275.9" y="631" width="4.8" height="80"/>
<rect x="298.4" y="638.6" width="4.8" height="72.4"/>
<rect x="326.9" y="655.3" width="4.8" height="55.7"/>
<rect x="347.9" y="653.6" width="4.8" height="57.4"/>
<rect x="362.9" y="637.3" width="4.8" height="73.7"/>
<rect x="377.9" y="655.3" width="4.8" height="55.7"/>
<rect x="385.4" y="651.8" width="4.8" height="59.2"/>
<rect x="391.4" y="651" width="4.8" height="60"/>
<rect x="413.9" y="651" width="4.8" height="60"/>
<rect x="442.4" y="649.3" width="4.8" height="61.7"/>
<rect x="449.9" y="647.8" width="4.8" height="63.2"/>
<rect x="457.4" y="655.3" width="4.8" height="55.7"/>
<rect x="506.9" y="665.6" width="4.8" height="45.4"/>
<rect x="514.4" y="641.8" width="4.8" height="69.2"/>
<rect x="529.4" y="647.8" width="4.8" height="63.2"/>
<rect x="550.4" y="665.6" width="4.8" height="45.4"/>
<rect x="565.4" y="641.8" width="4.8" height="69.2"/>
<rect x="593.9" y="650.6" width="4.8" height="60.4"/>
<rect x="601.4" y="641.8" width="4.8" height="69.2"/>
<rect x="616.4" y="631" width="4.8" height="80"/>
<rect x="623.9" y="643" width="4.8" height="68"/>
<rect x="644.9" y="662.8" width="4.8" height="48.2"/>
<rect x="659.9" y="667.3" width="4.8" height="43.7"/>
<rect x="680.9" y="667.3" width="4.8" height="43.7"/>
<rect x="688.4" y="650.6" width="4.8" height="60.4"/>
<rect x="703.4" y="658" width="4.8" height="53"/>
<rect x="716.9" y="665.6" width="4.8" height="45.4"/>
<rect x="731.9" y="670.3" width="4.8" height="40.7"/>
<rect x="739.4" y="658" width="4.8" height="53"/>
<rect x="746.9" y="664.8" width="4.8" height="46.2"/>
<rect x="760.4" y="668.6" width="4.8" height="42.4"/>
<rect x="767.9" y="665.6" width="4.8" height="45.4"/>
<rect x="782.9" y="667.3" width="4.8" height="43.7"/>
<rect x="790.4" y="659.8" width="4.8" height="51.2"/>
<rect x="803.9" y="649.3" width="4.8" height="61.7"/>
<rect x="818.9" y="670.3" width="4.8" height="40.7"/>
<rect x="833.9" y="667.3" width="4.8" height="43.7"/>
<rect x="854.9" y="659.8" width="4.8" height="51.2"/>
<rect x="862.4" y="656.8" width="4.8" height="54.2"/>
<rect x="869.9" y="637.3" width="4.8" height="73.7"/>
<rect x="898.4" y="652.3" width="4.8" height="58.7"/>
<rect x="905.9" y="655.3" width="4.8" height="55.7"/>
<rect x="913.4" y="643" width="4.8" height="68"/>
<rect x="941.9" y="640.6" width="4.8" height="70.4"/>
<rect x="949.4" y="637.3" width="4.8" height="73.7"/>
<rect x="956.9" y="637.3" width="4.8" height="73.7"/>
<rect x="962.9" y="614.8" width="4.8" height="96.2"/>
<rect x="977.9" y="617.8" width="4.8" height="93.2"/>
<rect x="1028.8" y="646" width="4.8" height="65"/>
<rect x="1049.8" y="640.6" width="4.8" height="70.4"/>
<rect x="1072.3" y="655.3" width="4.8" height="55.7"/>
<rect x="1093.3" y="665.6" width="4.8" height="45.4"/>
<rect x="1100.8" y="656.8" width="4.8" height="54.2"/>
<rect x="1115.8" y="643" width="4.8" height="68"/>
<rect x="1136.8" y="658" width="4.8" height="53"/>
<rect x="1159.3" y="656.8" width="4.8" height="54.2"/>
<rect x="1172.8" y="656.8" width="4.8" height="54.2"/>
<rect x="1180.3" y="656.8" width="4.8" height="54.2"/>
<rect x="1187.8" y="634.3" width="4.8" height="76.7"/>
<rect x="1216.3" y="656.8" width="4.8" height="54.2"/>
<rect x="1223.8" y="655.3" width="4.8" height="55.7"/>
<rect x="1231.3" y="656.8" width="4.8" height="54.2"/>
<rect x="1244.8" y="659.8" width="4.8" height="51.2"/>
<rect x="1274.8" y="667.3" width="4.8" height="43.7"/>
<rect x="1282.3" y="664.3" width="4.8" height="46.7"/>
<rect x="1295.8" y="667.3" width="4.8" height="43.7"/>
<rect x="1303.3" y="655.3" width="4.8" height="55.7"/>
<rect x="1339.3" y="664.3" width="4.8" height="46.7"/>
<rect x="1346.8" y="665.6" width="4.8" height="45.4"/>
<rect x="1375.3" y="664.3" width="4.8" height="46.7"/>
<rect x="1382.8" y="667.3" width="4.8" height="43.7"/>
<rect x="1390.3" y="658" width="4.8" height="53"/>
<rect x="1397.8" y="655.3" width="4.8" height="55.7"/>
<rect x="1411.3" y="647.8" width="4.8" height="63.2"/>
<rect x="1426.3" y="646" width="4.8" height="65"/>
<rect x="1433.8" y="643" width="4.8" height="68"/>
<rect x="1441.3" y="631" width="4.8" height="80"/>
</g>
<g fill="#00ffff">
<rect x="8.8" y="583" width="4.8" height="128"/>
<rect x="16.4" y="610.3" width="4.8" height="100.7"/>
<rect x="58.4" y="575.5" width="4.8" height="135.5"/>
<rect x="88.3" y="584.8" width="4.8" height="126.2"/>
<rect x="95.8" y="613" width="4.8" height="98"/>
<rect x="101.8" y="629.8" width="4.8" height="81.2"/>
<rect x="124.3" y="628.6" width="4.8" height="82.4"/>
<rect x="139.3" y="628" width="4.8" height="83"/>
<rect x="152.8" y="625.3" width="4.8" height="85.7"/>
<rect x="160.3" y="637.3" width="4.8" height="73.7"/>
<rect x="167.8" y="638.6" width="4.8" height="72.4"/>
<rect x="188.8" y="602.8" width="4.8" height="108.2"/>
<rect x="203.8" y="615.6" width="4.8" height="95.4"/>
<rect x="211.3" y="613" width="4.8" height="98"/>
<rect x="224.8" y="614.8" width="4.8" height="96.2"/>
<rect x="232.3" y="625.3" width="4.8" height="85.7"/>
<rect x="247.3" y="637.3" width="4.8" height="73.7"/>
<rect x="268.4" y="628" width="4.8" height="83"/>
<rect x="283.4" y="625.3" width="4.8" height="85.7"/>
<rect x="290.9" y="634.3" width="4.8" height="76.7"/>
<rect x="304.4" y="625.3" width="4.8" height="85.7"/>
<rect x="311.9" y="643" width="4.8" height="68"/>
<rect x="319.4" y="636" width="4.8" height="75"/>
<rect x="334.4" y="643" width="4.8" height="68"/>
<rect x="341.9" y="650.6" width="4.8" height="60.4"/>
<rect x="355.4" y="658" width="4.8" height="53"/>
<rect x="370.4" y="653.6" width="4.8" height="57.4"/>
<rect x="398.9" y="640.6" width="4.8" height="70.4"/>
<rect x="406.4" y="651.8" width="4.8" height="59.2"/>
<rect x="421.4" y="647.8" width="4.8" height="63.2"/>
<rect x="427.4" y="644.8" width="4.8" height="66.2"/>
<rect x="434.9" y="656.8" width="4.8" height="54.2"/>
<rect x="464.9" y="653.6" width="4.8" height="57.4"/>
<rect x="470.9" y="656.8" width="4.8" height="54.2"/>
<rect x="478.4" y="651.8" width="4.8" height="59.2"/>
<rect x="485.9" y="658" width="4.8" height="53"/>
<rect x="493.4" y="658" width="4.8" height="53"/>
<rect x="500.9" y="658" width="4.8" height="53"/>
<rect x="521.9" y="647.8" width="4.8" height="63.2"/>
<rect x="536.9" y="649.3" width="4.8" height="61.7"/>
<rect x="544.4" y="662.8" width="4.8" height="48.2"/>
<rect x="557.9" y="646" width="4.8" height="65"/>
<rect x="572.9" y="625.3" width="4.8" height="85.7"/>
<rect x="580.4" y="637.3" width="4.8" height="73.7"/>
<rect x="587.9" y="641.8" width="4.8" height="69.2"/>
<rect x="608.9" y="646" width="4.8" height="65"/>
<rect x="629.9" y="650.6" width="4.8" height="60.4"/>
<rect x="637.4" y="655.3" width="4.8" height="55.7"/>
<rect x="652.4" y="651.8" width="4.8" height="59.2"/>
<rect x="667.4" y="667.3" width="4.8" height="43.7"/>
<rect x="673.4" y="665.6" width="4.8" height="45.4"/>
<rect x="695.9" y="662.8" width="4.8" height="48.2"/>
<rect x="710.9" y="661" width="4.8" height="50"/>
<rect x="724.4" y="662.8" width="4.8" height="48.2"/>
<rect x="752.9" y="668.6" width="4.8" height="42.4"/>
<rect x="775.4" y="668.6" width="4.8" height="42.4"/>
<rect x="796.4" y="665.6" width="4.8" height="45.4"/>
<rect x="811.4" y="667.3" width="4.8" height="43.7"/>
<rect x="826.4" y="662.8" width="4.8" height="48.2"/>
<rect x="839.9" y="670.3" width="4.8" height="40.7"/>
<rect x="847.4" y="662.8" width="4.8" height="48.2"/>
<rect x="875.9" y="641.8" width="4.8" height="69.2"/>
<rect x="883.4" y="653.6" width="4.8" height="57.4"/>
<rect x="890.9" y="653.6" width="4.8" height="57.4"/>
<rect x="919.4" y="647.8" width="4.8" height="63.2"/>
<rect x="926.9" y="646" width="4.8" height="65"/>
<rect x="934.4" y="635.6" width="4.8" height="75.4"/>
<rect x="970.4" y="632.8" width="4.8" height="78.2"/>
<rect x="985.4" y="620.6" width="4.8" height="90.4"/>
<rect x="992.9" y="632.8" width="4.8" height="78.2"/>
<rect x="998.9" y="641.8" width="4.8" height="69.2"/>
<rect x="1006.4" y="634.3" width="4.8" height="76.7"/>
<rect x="1013.9" y="629.8" width="4.8" height="81.2"/>
<rect x="1021.4" y="646" width="4.8" height="65"/>
<rect x="1036.3" y="643" width="4.8" height="68"/>
<rect x="1042.3" y="646" width="4.8" height="65"/>
<rect x="1057.3" y="641.8" width="4.8" height="69.2"/>
<rect x="1064.8" y="641.8" width="4.8" height="69.2"/>
<rect x="1078.3" y="662.8" width="4.8" height="48.2"/>
<rect x="1085.8" y="664.3" width="4.8" height="46.7"/>
<rect x="1108.3" y="649.3" width="4.8" height="61.7"/>
<rect x="1121.8" y="640.6" width="4.8" height="70.4"/>
<rect x="1129.3" y="650.6" width="4.8" height="60.4"/>
<rect x="1144.3" y="652.3" width="4.8" height="58.7"/>
<rect x="1151.8" y="653.6" width="4.8" height="57.4"/>
<rect x="1165.3" y="656.8" width="4.8" height="54.2"/>
<rect x="1195.3" y="629.8" width="4.8" height="81.2"/>
<rect x="1201.3" y="644.8" width="4.8" height="66.2"/>
<rect x="1208.8" y="653.6" width="4.8" height="57.4"/>
<rect x="1238.8" y="656.8" width="4.8" height="54.2"/>
<rect x="1252.3" y="655.3" width="4.8" height="55.7"/>
<rect x="1259.8" y="656.8" width="4.8" height="54.2"/>
<rect x="1267.3" y="662.8" width="4.8" height="48.2"/>
<rect x="1288.3" y="661" width="4.8" height="50"/>
<rect x="1310.8" y="653.6" width="4.8" height="57.4"/>
<rect x="1318.3" y="664.3" width="4.8" height="46.7"/>
<rect x="1324.3" y="650.6" width="4.8" height="60.4"/>
<rect x="1331.8" y="659.8" width="4.8" height="51.2"/>
<rect x="1354.3" y="668.6" width="4.8" height="42.4"/>
<rect x="1361.8" y="668.6" width="4.8" height="42.4"/>
<rect x="1367.8" y="667.3" width="4.8" height="43.7"/>
<rect x="1405.3" y="652.3" width="4.8" height="58.7"/>
<rect x="1418.8" y="646" width="4.8" height="65"/>
</g>
<polyline fill="none" stroke="#ffffff" stroke-width="1.1" stroke-linejoin="round" opacity="0.95" points="3.8,627.5 11.2,616.1 18.8,610.2 24.8,609.1 32.2,609.3 39.8,610.2 47.2,612.4 54.8,605.8 60.8,595 68.2,582.6 75.8,581.4 83.2,575.9 90.8,577.4 98.2,584.9 104.2,596.6 111.8,605 119.2,617.7 126.8,626.4 134.2,626.4 141.8,626.1 147.8,625.1 155.2,624.2 162.8,625.9 170.2,631 177.8,631.9 183.8,628.8 191.2,624.3 198.8,621.2 206.2,616.6 213.8,612.7 221.2,616.6 227.2,619 234.8,619.7 242.2,624.9 249.8,629.8 257.2,630 264.8,631.5 270.8,632.1 278.2,629.9 285.8,627.5 293.2,628.2 300.8,631.4 306.8,630.9 314.2,633.3 321.8,635.4 329.2,639.6 336.8,640.5 344.2,645.6 350.2,647.7 357.8,652.1 365.2,648.5 372.8,650.6 380.2,651.6 387.8,651.2 393.8,649.8 401.2,650.5 408.8,650.1 416.2,649.2 423.8,648.4 429.8,647.2 437.2,650.4 444.8,649.9 452.2,649.3 459.8,650.8 467.2,652.6 473.2,652.6 480.8,653.1 488.2,655.1 495.8,655.6 503.2,656.5 509.2,658.3 516.8,656.3 524.2,654.2 531.8,652.2 539.2,650.5 546.8,649.9 552.8,654.7 560.2,654.3 567.8,653.1 575.2,648.3 582.8,643.2 590.2,638.4 596.2,639.4 603.8,639.4 611.2,643.5 618.8,642.2 626.2,642.5 632.2,642.5 639.8,645.2 647.2,648.5 654.8,652.7 662.2,657.6 669.8,660.9 675.8,663 683.2,663.9 690.8,663.6 698.2,662.7 705.8,660.9 713.2,659.9 719.2,659.6 726.8,662 734.2,663.5 741.8,663.5 749.2,664.3 755.2,664.9 762.8,666.1 770.2,665.1 777.8,667.2 785.2,667.7 792.8,666 798.8,665.4 806.2,662.1 813.8,661.9 821.2,662.5 828.8,663.1 836.2,663.4 842.2,667.6 849.8,666.7 857.2,664.6 864.8,663.4 872.2,657.4 878.2,651.7 885.8,649.9 893.2,648.6 900.8,647.7 908.2,651.3 915.8,651.6 921.8,650.4 929.2,648.9 936.8,645.5 944.2,642.6 951.8,641.5 959.2,639.4 965.2,633.1 972.8,632.6 980.2,628 987.8,624.7 995.2,623.8 1001.2,629.2 1008.8,629.5 1016.2,631.9 1023.8,636.9 1031.2,639.6 1038.8,639.8 1044.8,642.2 1052.2,644.3 1059.8,643.5 1067.2,642.6 1074.8,645.1 1080.8,648.5 1088.2,653.2 1095.8,658 1103.2,661 1110.8,659.8 1118.2,655.8 1124.2,651.1 1131.8,648.1 1139.2,648.3 1146.8,648.9 1154.2,651 1161.8,654.3 1167.8,655.5 1175.2,655.3 1182.8,656.2 1190.2,652.3 1197.8,646.9 1203.8,644.5 1211.2,643.9 1218.8,643.9 1226.2,648.1 1233.8,653.5 1241.2,655.9 1247.2,657.1 1254.8,656.8 1262.2,657.1 1269.8,658.3 1277.2,660.4 1284.8,661.3 1290.8,662.4 1298.2,664.5 1305.8,663 1313.2,660.3 1320.8,660.3 1326.8,658.2 1334.2,656.7 1341.8,658.5 1349.2,660.9 1356.8,661.8 1364.2,665.4 1370.2,666.9 1377.8,666.9 1385.2,667.2 1392.8,665.1 1400.2,662.4 1407.8,659.4 1413.8,656.1 1421.2,651.9 1428.8,649.5 1436.2,647 1443.8,642.8"/>
<polyline fill="none" stroke="#ffff00" stroke-width="1.2" stroke-linejoin="round" opacity="0.95" points="3.8,634.6 11.2,628.1 18.8,624.7 24.8,623.7 32.2,623.3 39.8,618.9 47.2,614.3 54.8,608 60.8,602 68.2,596 75.8,595.8 83.2,594.1 90.8,591.6 98.2,589.9 104.2,589.6 111.8,593.2 119.2,596.8 126.8,601.9 134.2,605.6 141.8,611.4 147.8,615 155.2,620.9 162.8,626.2 170.2,628.7 177.8,629 183.8,626.9 191.2,624.2 198.8,623.5 206.2,623.8 213.8,622.3 221.2,622.7 227.2,621.6 234.8,620.4 242.2,620.8 249.8,621.2 257.2,623.3 264.8,625.3 270.8,625.9 278.2,627.4 285.8,628.7 293.2,629.1 300.8,631.5 306.8,631.5 314.2,631.6 321.8,631.5 329.2,633.9 336.8,636 344.2,638.2 350.2,640.5 357.8,643.8 365.2,644.1 372.8,645.6 380.2,648.6 387.8,649.5 393.8,651 401.2,649.5 408.8,650.4 416.2,650.4 423.8,649.8 429.8,648.5 437.2,650.5 444.8,650 452.2,649.3 459.8,649.6 467.2,649.9 473.2,651.5 480.8,651.5 488.2,652.2 495.8,653.2 503.2,654.5 509.2,655.4 516.8,654.7 524.2,654.7 531.8,653.9 539.2,653.5 546.8,654.1 552.8,655.5 560.2,654.3 567.8,652.6 575.2,649.4 582.8,646.5 590.2,646.5 596.2,646.8 603.8,646.2 611.2,645.9 618.8,642.7 626.2,640.5 632.2,640.9 639.8,642.3 647.2,646 654.8,647.5 662.2,650 669.8,651.7 675.8,654.1 683.2,656.2 690.8,658.2 698.2,660.1 705.8,660.9 713.2,661.5 719.2,661.7 726.8,662.8 734.2,663.1 741.8,662.2 749.2,662.1 755.2,662.2 762.8,664 770.2,664.3 777.8,665.4 785.2,666 792.8,665.4 798.8,665.7 806.2,663.6 813.8,664.5 821.2,665.1 828.8,664.5 836.2,664.4 842.2,664.9 849.8,664.3 857.2,663.5 864.8,663.2 872.2,660.4 878.2,659.6 885.8,658.3 893.2,656.6 900.8,655.6 908.2,654.4 915.8,651.6 921.8,650.1 929.2,648.8 936.8,646.6 944.2,647 951.8,646.5 959.2,644.9 965.2,641 972.8,639 980.2,635.3 987.8,633.1 995.2,631.6 1001.2,631.1 1008.8,631 1016.2,629.9 1023.8,630.8 1031.2,631.7 1038.8,634.5 1044.8,635.8 1052.2,638.1 1059.8,640.2 1067.2,641.1 1074.8,642.5 1080.8,645.3 1088.2,648.8 1095.8,650.7 1103.2,651.8 1110.8,652.4 1118.2,652.1 1124.2,652.1 1131.8,653 1139.2,654.6 1146.8,654.3 1154.2,653.4 1161.8,652.7 1167.8,651.8 1175.2,651.8 1182.8,652.5 1190.2,651.7 1197.8,650.6 1203.8,650 1211.2,649.6 1218.8,650 1226.2,650.2 1233.8,650.2 1241.2,650.2 1247.2,650.5 1254.8,650.3 1262.2,652.6 1269.8,655.9 1277.2,658.1 1284.8,659.2 1290.8,659.6 1298.2,660.8 1305.8,660.7 1313.2,660.4 1320.8,660.8 1326.8,660.3 1334.2,660.6 1341.8,660.8 1349.2,660.6 1356.8,661 1364.2,661.8 1370.2,661.8 1377.8,662.7 1385.2,664.1 1392.8,663.4 1400.2,663.9 1407.8,663.2 1413.8,661.5 1421.2,659.5 1428.8,657.3 1436.2,654.7 1443.8,651.1"/>
<polyline fill="none" stroke="#ffffff" stroke-width="1.1" stroke-linejoin="round" opacity="0.95" points="3.8,769.7 11.2,773 18.8,780 24.8,781.7 32.2,778.1 39.8,777 47.2,772.4 54.8,769.7 60.8,771 68.2,780.4 75.8,775 83.2,772.4 90.8,782.4 98.2,803.7 104.2,817.1 111.8,818.3 119.2,818.6 126.8,823.6 134.2,823.2 141.8,825.3 147.8,831.3 155.2,845.2 162.8,848 170.2,853.5 177.8,835.5 183.8,812.9 191.2,801.1 198.8,790.1 206.2,782.7 213.8,787.3 221.2,790.2 227.2,796.3 234.8,808.5 242.2,826.5 249.8,842.7 257.2,839 264.8,831.7 270.8,830.3 278.2,820.3 285.8,816.6 293.2,817.9 300.8,803.8 306.8,814.5 314.2,826.6 321.8,841.5 329.2,848.1 336.8,855.9 344.2,857.9 350.2,861.2 357.8,865.2 365.2,858.4 372.8,857.1 380.2,857.1 387.8,848.9 393.8,831.5 401.2,838.1 408.8,842.6 416.2,834.9 423.8,832.1 429.8,845.5 437.2,853.5 444.8,840.4 452.2,826.5 459.8,820.2 467.2,813.3 473.2,809.5 480.8,815 488.2,825.1 495.8,834.6 503.2,845.9 509.2,847.6 516.8,827 524.2,816.4 531.8,807 539.2,811.2 546.8,817.2 552.8,815.1 560.2,811.3 567.8,799.1 575.2,791.1 582.8,789.9 590.2,795.1 596.2,796.1 603.8,789 611.2,789.3 618.8,780.7 626.2,776.9 632.2,784.6 639.8,794.6 647.2,795 654.8,813.8 662.2,823.7 669.8,834.1 675.8,839.3 683.2,840.4 690.8,824.6 698.2,811.1 705.8,801.6 713.2,809.7 719.2,805.7 726.8,817.7 734.2,815.4 741.8,802.5 749.2,790.2 755.2,785.5 762.8,779 770.2,779.9 777.8,784.9 785.2,786.5 792.8,796.2 798.8,822.5 806.2,830.5 813.8,838.1 821.2,836.1 828.8,839.8 836.2,828.9 842.2,827 849.8,818.3 857.2,804.5 864.8,796.4 872.2,785.3 878.2,783.3 885.8,782.4 893.2,781 900.8,779.4 908.2,782.8 915.8,781 921.8,784 929.2,792 936.8,805.8 944.2,793.3 951.8,784.4 959.2,777.3 965.2,778.6 972.8,779.2 980.2,773.8 987.8,772.8 995.2,778.7 1001.2,781.2 1008.8,784.5 1016.2,803.2 1023.8,821.1 1031.2,818.7 1038.8,817.4 1044.8,827.8 1052.2,829.4 1059.8,842.1 1067.2,853.1 1074.8,850.6 1080.8,857.4 1088.2,862.5 1095.8,859.7 1103.2,841.6 1110.8,829.9 1118.2,811.7 1124.2,808.3 1131.8,807.5 1139.2,806 1146.8,809.5 1154.2,813.1 1161.8,810.3 1167.8,818.5 1175.2,821.9 1182.8,803.8 1190.2,790.2 1197.8,790.4 1203.8,792.5 1211.2,799.7 1218.8,798.3 1226.2,790.8 1233.8,784 1241.2,786.7 1247.2,784.9 1254.8,788.2 1262.2,811.7 1269.8,824.8 1277.2,828.3 1284.8,825.5 1290.8,832.1 1298.2,832.8 1305.8,810.3 1313.2,804.8 1320.8,804.2 1326.8,817.6 1334.2,833.3 1341.8,836.8 1349.2,840.7 1356.8,843.7 1364.2,847 1370.2,848.3 1377.8,845.6 1385.2,844.3 1392.8,818.9 1400.2,800.3 1407.8,792.9 1413.8,782.9 1421.2,782.3 1428.8,781.2 1436.2,776 1443.8,771.9"/>
<polyline fill="none" stroke="#ffff00" stroke-width="1.2" stroke-linejoin="round" opacity="0.95" points="3.8,774.6 11.2,774.6 18.8,776 24.8,777 32.2,777.4 39.8,777 47.2,776 54.8,774.1 60.8,772.8 68.2,776 75.8,774.6 83.2,773.7 90.8,777.7 98.2,788 104.2,797.7 111.8,804.6 119.2,809.2 126.8,814 134.2,817.1 141.8,819.8 147.8,823.6 155.2,830.8 162.8,836.5 170.2,842.2 177.8,840 183.8,830.9 191.2,821 198.8,810.7 206.2,801.4 213.8,796.7 221.2,794.5 227.2,795.1 234.8,799.6 242.2,808.6 249.8,820 257.2,826.3 264.8,828.1 270.8,828.8 278.2,826 285.8,822.9 293.2,821.2 300.8,815.4 306.8,815.1 314.2,818.9 321.8,826.5 329.2,833.7 336.8,841.1 344.2,846.7 350.2,851.5 357.8,856.1 365.2,856.8 372.8,856.9 380.2,857 387.8,854.3 393.8,846.7 401.2,843.8 408.8,843.4 416.2,840.6 423.8,837.7 429.8,840.3 437.2,844.7 444.8,843.3 452.2,837.7 459.8,831.9 467.2,825.7 473.2,820.3 480.8,818.5 488.2,820.7 495.8,825.3 503.2,832.2 509.2,837.3 516.8,833.9 524.2,828.1 531.8,821 539.2,817.7 546.8,817.6 552.8,816.7 560.2,814.9 567.8,809.7 575.2,803.5 582.8,798.9 590.2,797.6 596.2,797.1 603.8,794.4 611.2,792.7 618.8,788.7 626.2,784.8 632.2,784.7 639.8,788 647.2,790.3 654.8,798.1 662.2,806.7 669.8,815.8 675.8,823.7 683.2,829.3 690.8,827.7 698.2,822.2 705.8,815.3 713.2,813.4 719.2,810.9 726.8,813.1 734.2,813.9 741.8,810.1 749.2,803.5 755.2,797.5 762.8,791.3 770.2,787.5 777.8,786.7 785.2,786.6 792.8,789.8 798.8,800.7 806.2,810.7 813.8,819.8 821.2,825.2 828.8,830.1 836.2,829.7 842.2,828.8 849.8,825.3 857.2,818.4 864.8,811 872.2,802.5 878.2,796.1 885.8,791.5 893.2,788 900.8,785.2 908.2,784.4 915.8,783.2 921.8,783.5 929.2,786.3 936.8,792.8 944.2,793 951.8,790.1 959.2,785.9 965.2,783.4 972.8,782 980.2,779.3 987.8,777.1 995.2,777.6 1001.2,778.8 1008.8,780.7 1016.2,788.2 1023.8,799.2 1031.2,805.7 1038.8,809.6 1044.8,815.7 1052.2,820.3 1059.8,827.5 1067.2,836.1 1074.8,840.9 1080.8,846.4 1088.2,851.8 1095.8,854.4 1103.2,850.1 1110.8,843.4 1118.2,832.8 1124.2,824.7 1131.8,819 1139.2,814.6 1146.8,812.9 1154.2,813 1161.8,812.1 1167.8,814.2 1175.2,816.8 1182.8,812.5 1190.2,805.1 1197.8,800.2 1203.8,797.6 1211.2,798.3 1218.8,798.3 1226.2,795.8 1233.8,791.8 1241.2,790.1 1247.2,788.4 1254.8,788.3 1262.2,796.1 1269.8,805.7 1277.2,813.2 1284.8,817.3 1290.8,822.2 1298.2,825.8 1305.8,820.6 1313.2,815.3 1320.8,811.6 1326.8,813.6 1334.2,820.2 1341.8,825.7 1349.2,830.7 1356.8,835 1364.2,839 1370.2,842.1 1377.8,843.3 1385.2,843.6 1392.8,835.4 1400.2,823.7 1407.8,813.4 1413.8,803.3 1421.2,796.3 1428.8,791.3 1436.2,786.2 1443.8,781.4"/>
<polyline fill="none" stroke="#ff00ff" stroke-width="1.2" stroke-linejoin="round" opacity="0.95" points="3.8,759.8 11.2,769.8 18.8,788 24.8,791 32.2,779.4 39.8,777 47.2,765.1 54.8,760.9 60.8,767.5 68.2,789.2 75.8,775.8 83.2,769.7 90.8,791.7 98.2,835 104.2,855.9 111.8,845.9 119.2,837.3 126.8,842.6 134.2,835.5 141.8,836.2 147.8,846.6 155.2,874 162.8,870.8 170.2,876.2 177.8,826.6 183.8,776.8 191.2,761.4 198.8,749 206.2,745.3 213.8,768.7 221.2,781.6 227.2,798.6 234.8,826.4 242.2,862.5 249.8,888.3 257.2,864.4 264.8,839 270.8,833.2 278.2,808.9 285.8,804.1 293.2,811.4 300.8,780.5 306.8,813.2 314.2,842.1 321.8,871.6 329.2,876.8 336.8,885.5 344.2,880.3 350.2,880.5 357.8,883.4 365.2,861.4 372.8,857.5 380.2,857.4 387.8,838.1 393.8,801.1 401.2,826.7 408.8,840.9 416.2,823.6 423.8,820.7 429.8,855.9 437.2,871 444.8,834.6 452.2,804.2 459.8,797 467.2,788.5 473.2,788 480.8,808 488.2,833.8 495.8,853.1 503.2,873.2 509.2,868.1 516.8,813.3 524.2,793.2 531.8,778.8 539.2,798 546.8,816.5 552.8,811.8 560.2,804.1 567.8,778 575.2,766.3 582.8,771.8 590.2,789.9 596.2,794.1 603.8,778.1 611.2,782.5 618.8,764.6 626.2,761.2 632.2,784.3 639.8,807.8 647.2,804.4 654.8,845 662.2,857.9 669.8,870.7 675.8,870.7 683.2,862.8 690.8,818.3 698.2,789 705.8,774.2 713.2,802.1 719.2,795.4 726.8,826.9 734.2,818.3 741.8,787.4 749.2,763.7 755.2,761.6 762.8,754.3 770.2,764.7 777.8,781.5 785.2,786.3 792.8,809.1 798.8,866.1 806.2,870.3 813.8,874.6 821.2,857.9 828.8,859.2 836.2,827.4 842.2,823.4 849.8,804.2 857.2,776.7 864.8,767.2 872.2,750.9 878.2,757.9 885.8,764.3 893.2,766.9 900.8,768 908.2,779.6 915.8,776.5 921.8,784.9 929.2,803.4 936.8,831.7 944.2,794 951.8,773.1 959.2,760.2 965.2,768.9 972.8,773.6 980.2,762.8 987.8,764.1 995.2,780.8 1001.2,785.9 1008.8,792.2 1016.2,833.1 1023.8,865.1 1031.2,844.8 1038.8,832.9 1044.8,852.1 1052.2,847.8 1059.8,871.2 1067.2,887.2 1074.8,870 1080.8,879.4 1088.2,884 1095.8,870.3 1103.2,824.5 1110.8,802.9 1118.2,769.4 1124.2,775.7 1131.8,784.7 1139.2,788.6 1146.8,802.7 1154.2,813.3 1161.8,806.7 1167.8,827.1 1175.2,832.2 1182.8,786.6 1190.2,760.6 1197.8,770.9 1203.8,782.2 1211.2,802.5 1218.8,798.3 1226.2,780.7 1233.8,768.2 1241.2,779.8 1247.2,778 1254.8,788.1 1262.2,842.7 1269.8,863.1 1277.2,858.5 1284.8,841.8 1290.8,851.8 1298.2,846.9 1305.8,789.6 1313.2,783.7 1320.8,789.3 1326.8,825.6 1334.2,859.5 1341.8,859.1 1349.2,860.7 1356.8,861.1 1364.2,862.9 1370.2,860.6 1377.8,850.3 1385.2,845.6 1392.8,786 1400.2,753.5 1407.8,751.9 1413.8,742.3 1421.2,754.4 1428.8,761.1 1436.2,755.6 1443.8,752.9"/>
<g font-family="Liberation Sans, Noto Sans CJK SC, sans-serif" font-size="18.5" letter-spacing="-0.27" stroke="#000" stroke-width="0.3">
<text x="3.4" y="30.5" font-size="19.4" letter-spacing="-1.08" fill="#f2f2f2" stroke="none" font-weight="300">创业板指<tspan font-size="16.5" dx="1" dy="-1.2">(</tspan><tspan dx="0.9" dy="1.2">日线</tspan><tspan font-size="15" dx="0.6">.</tspan><tspan dx="0.2">前复权</tspan><tspan font-size="16.5" dx="0.6" dy="-1.2">)</tspan></text>
<text x="235.3" y="55.1" font-size="18.5" letter-spacing="-0.25" fill="#dcdcdc">1792.03</text>
<text x="530.6" y="518.8" font-size="18.5" letter-spacing="-0.25" fill="#dcdcdc">1410.57</text>
<text y="556.3" fill="#e4e4e4"><tspan x="27">VOLUME: 96066632.00</tspan><tspan x="227">MA5: 82008080.00</tspan><tspan x="388" fill="#ffff00">MA10: 71837136.00</tspan></text>
<text y="732" fill="#e4e4e4"><tspan x="27">KDJ(9,3,3)</tspan><tspan x="122">K: 91.88</tspan><tspan x="197" fill="#ffff00">D: 83.06</tspan><tspan x="272" fill="#ff00ff">J: 109.52</tspan></text>
<clipPath id="pc"><rect x="1490" y="82.9" width="12" height="12"/><rect x="1490" y="144.4" width="12" height="12"/><rect x="1490" y="205.9" width="12" height="12"/><rect x="1490" y="267.4" width="12" height="12"/><rect x="1490" y="328.9" width="12" height="12"/><rect x="1490" y="390.4" width="12" height="12"/><rect x="1490" y="451.9" width="12" height="12"/></clipPath>
<g fill="#b80000" clip-path="url(#pc)">
<text x="1496.3" y="98.5">1750</text>
<text x="1496.3" y="160">1700</text>
<text x="1496.3" y="221.5">1650</text>
<text x="1496.3" y="283">1600</text>
<text x="1496.3" y="344.5">1550</text>
<text x="1496.3" y="406">1500</text>
<text x="1496.3" y="467.5">1450</text>
</g>
<g fill="#b80000">
<text x="1485.8" y="594.8">150</text>
<text x="1485.8" y="635.5">100</text>
<text x="1495.8" y="676.2">50</text>
<text x="1472.3" y="708.2" font-size="17.6" letter-spacing="-0.7">X1万</text>
<text x="1481.5" y="769.4">100</text>
<text x="1491.5" y="791.7">80</text>
<text x="1491.5" y="824.9">50</text>
<text x="1491.5" y="859">20</text>
</g></g>
<g stroke="#d8d8d8" stroke-width="1" fill="none">
<path d="M213.9,43.6 V38.9 H219.2 M214.2,40.6 L231,46.9"/>
<path d="M509.6,513.6 V508.8 H513.2 M510,510.9 L527,510.9"/>
</g>
<circle cx="225" cy="23.6" r="9" fill="#808080"/>
<polyline points="220.4,21.400000000000002 225,25.8 229.6,21.400000000000002" fill="none" stroke="#2a2a2a" stroke-width="1.4"/>
<circle cx="12" cy="550.3" r="9" fill="#808080"/>
<polyline points="7.4,548.0999999999999 12,552.5 16.6,548.0999999999999" fill="none" stroke="#2a2a2a" stroke-width="1.4"/>
<circle cx="12" cy="725.8" r="9" fill="#808080"/>
<polyline points="7.4,723.5999999999999 12,728.0 16.6,723.5999999999999" fill="none" stroke="#2a2a2a" stroke-width="1.4"/>
<polygon points="1427.2,16.4 1435.2,24.4 1427.2,32.4 1419.2,24.4" fill="none" stroke="#606060" stroke-width="1.2"/>
<rect x="1447.1" y="16.9" width="16.4" height="15.2" rx="3" fill="none" stroke="#686868" stroke-width="1.6"/>
<rect x="1456.6" y="19.4" width="4.4" height="10" fill="#707070"/>
</svg>
</body>
</html>
